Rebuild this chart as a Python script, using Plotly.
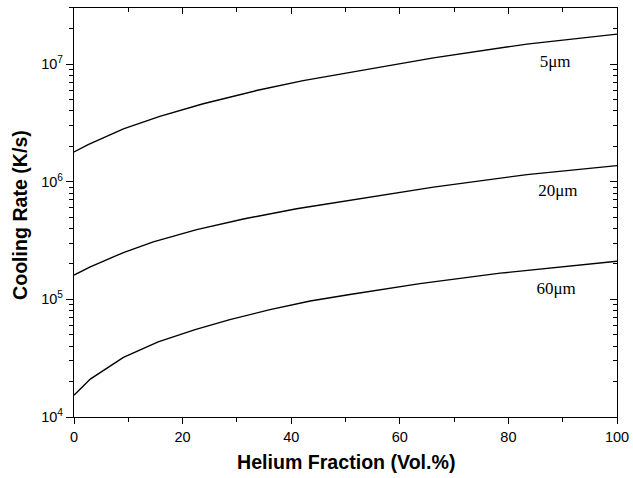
import plotly.graph_objects as go

# Data
helium_5um = [0, 2.6, 9.1, 15.8, 23.8, 33.6, 42.2, 50.8, 66.2, 83.4, 100]
rate_5um = [1.79e6, 2.07e6, 2.82e6, 3.59e6, 4.60e6, 5.96e6, 7.24e6, 8.53e6, 1.13e7, 1.48e7, 1.80e7]

helium_20um = [0, 3.0, 9.1, 14.6, 22.6, 31.2, 41.0, 50.8, 66.2, 83.4, 100]
rate_20um = [1.61e5, 1.89e5, 2.50e5, 3.08e5, 3.92e5, 4.82e5, 5.90e5, 6.95e5, 9.0e5, 1.15e6, 1.37e6]

helium_60um = [0, 3.0, 9.1, 15.5, 22.3, 28.7, 36.1, 43.5, 50.8, 63.7, 78.5, 100]
rate_60um = [1.53e4, 2.10e4, 3.21e4, 4.35e4, 5.53e4, 6.73e4, 8.18e4, 9.69e4, 1.10e5, 1.36e5, 1.67e5, 2.11e5]

series_labels = ["5\u03bcm", "20\u03bcm", "60\u03bcm"]
label_x = [88.6, 89.1, 88.8]
label_y = [1.03e7, 8.3e5, 1.2e5]

x_ticks = [0, 20, 40, 60, 80, 100]
x_minor = [10, 30, 50, 70, 90]
y_ticks = [1e4, 1e5, 1e6, 1e7]
y_ticktext = ["10<sup>4</sup>", "10<sup>5</sup>", "10<sup>6</sup>", "10<sup>7</sup>"]
y_minor = [m * 10 ** e for e in range(4, 8) for m in range(2, 10) if m * 10 ** e <= 3e7]

x_title = "Helium Fraction (Vol.%)"
y_title = "Cooling Rate (K/s)"

x_range = [0, 100]
y_range = [4, 7.477]

fig = go.Figure()
for xs, ys in [(helium_5um, rate_5um), (helium_20um, rate_20um), (helium_60um, rate_60um)]:
    fig.add_trace(go.Scatter(x=xs, y=ys, mode="lines",
                             line=dict(color="black", width=1.4),
                             showlegend=False, hoverinfo="skip"))

fig.add_trace(go.Scatter(x=label_x, y=label_y, mode="text", text=series_labels,
                         textposition="middle center",
                         textfont=dict(family="Liberation Serif", size=17, color="black"),
                         showlegend=False, hoverinfo="skip"))

# invisible trace for mirrored axes
fig.add_trace(go.Scatter(x=[50], y=[1e5], xaxis="x2", yaxis="y2", mode="markers",
                         marker=dict(opacity=0), showlegend=False, hoverinfo="skip"))

tickfont = dict(family="Liberation Sans", size=14.5, color="black")
titlefont = dict(family="Liberation Sans", size=19.6, color="black", weight="bold")

fig.update_layout(
    width=633, height=478,
    margin=dict(l=74, r=16, t=8, b=61, autoexpand=False),
    paper_bgcolor="white", plot_bgcolor="white",
    xaxis=dict(range=x_range, tickvals=x_ticks, ticks="outside", ticklen=6, tickwidth=1,
               tickcolor="black", showline=True, linecolor="black", linewidth=1.2, mirror=True,
               showgrid=False, zeroline=False, tickfont=tickfont, automargin=False,
               minor=dict(tickvals=x_minor, ticks="outside", ticklen=4, tickcolor="black", showgrid=False)),
    yaxis=dict(type="log", range=y_range, tickvals=y_ticks, ticktext=y_ticktext,
               ticks="outside", ticklen=7, tickwidth=1, tickcolor="black",
               showline=True, linecolor="black", linewidth=1.2, mirror=True,
               showgrid=False, zeroline=False, tickfont=tickfont, automargin=False,
               minor=dict(tickvals=y_minor, ticks="outside", ticklen=4, tickcolor="black", showgrid=False)),
    xaxis2=dict(overlaying="x", side="top", range=x_range, tickvals=x_ticks, ticks="inside",
                ticklen=6, tickcolor="black", showticklabels=False, showgrid=False, zeroline=False,
                automargin=False,
                minor=dict(tickvals=x_minor, ticks="inside", ticklen=4, tickcolor="black", showgrid=False)),
    yaxis2=dict(overlaying="y", side="right", type="log", range=y_range, tickvals=y_ticks,
                ticks="inside", ticklen=7, tickcolor="black", showticklabels=False,
                showgrid=False, zeroline=False, automargin=False,
                minor=dict(tickvals=y_minor, ticks="inside", ticklen=4, tickcolor="black", showgrid=False)),
    annotations=[
        dict(text=x_title, xref="paper", yref="paper", x=0.5, y=-0.110,
             xanchor="center", yanchor="middle", showarrow=False, font=titlefont),
        dict(text=y_title, xref="paper", yref="paper", x=-0.0994, y=0.494, textangle=-90,
             xanchor="center", yanchor="middle", showarrow=False, font=titlefont),
    ],
)

fig.write_html("out.html")
